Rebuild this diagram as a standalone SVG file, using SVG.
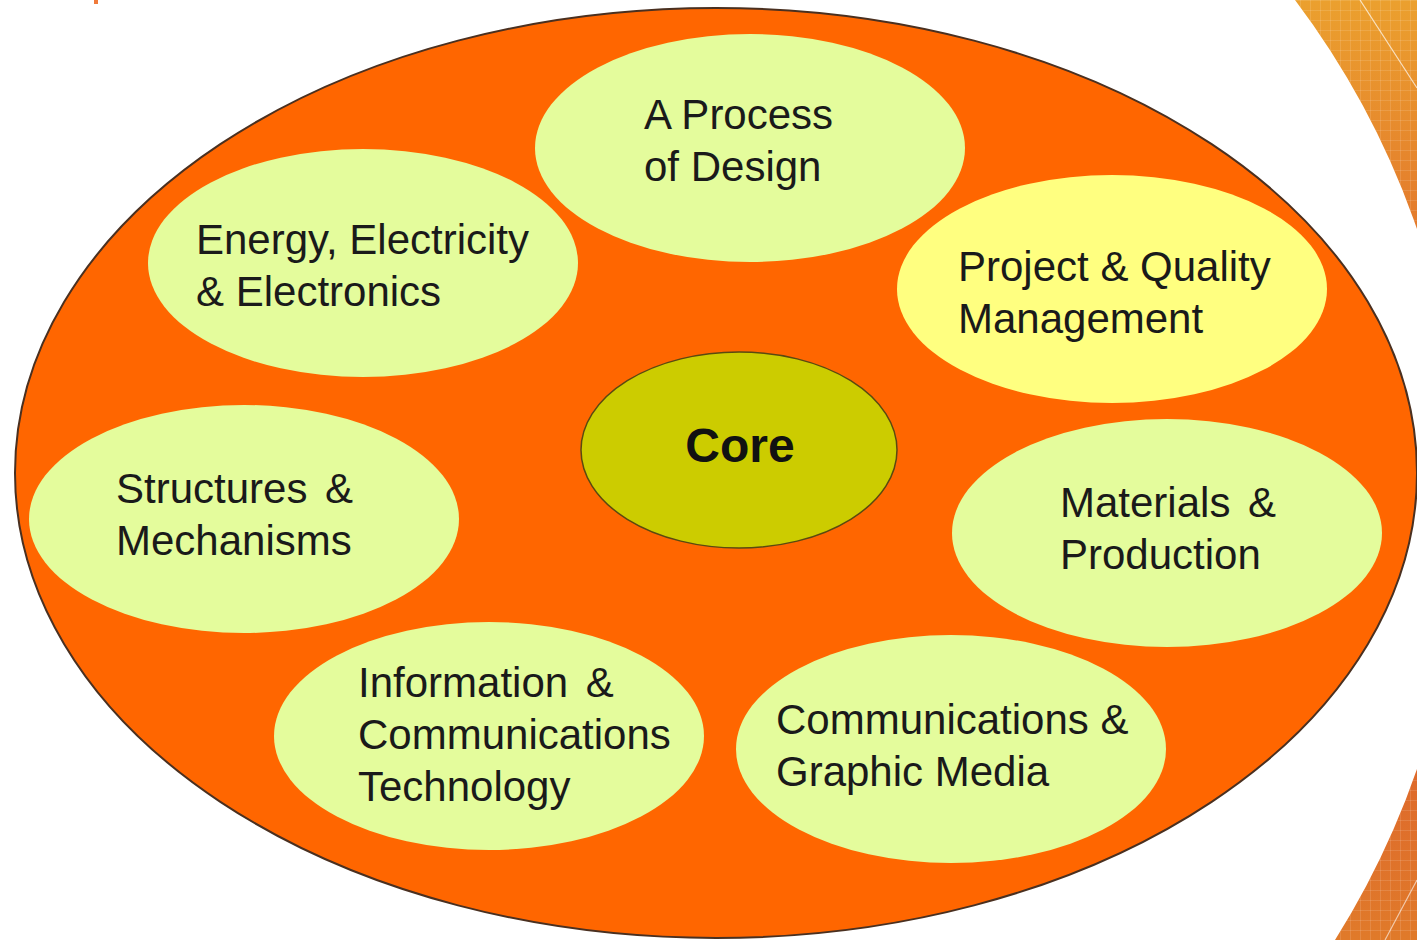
<svg xmlns="http://www.w3.org/2000/svg" width="1417" height="940" viewBox="0 0 1417 940">
<defs>
<linearGradient id="band" x1="0" y1="0" x2="0" y2="1">
<stop offset="0" stop-color="#eba02e"/>
<stop offset="0.35" stop-color="#e06a2c"/>
<stop offset="0.65" stop-color="#dc5a2c"/>
<stop offset="1" stop-color="#e07a2a"/>
</linearGradient>
<pattern id="grid" width="10" height="10" patternUnits="userSpaceOnUse">
<path d="M0 0.5H10M0.5 0V10" stroke="#ffffff" stroke-opacity="0.12" stroke-width="1" fill="none"/>
</pattern>
<style>
.main{fill:#ff6600;stroke:#4a3020;stroke-width:2}
.topic{fill:#e4fc9c}
.pq{fill:#ffff80}
.core{fill:#cccc00;stroke:#5a4a10;stroke-width:1.5}
.lbl{font-family:"Liberation Sans",Arial,sans-serif;font-size:42px;fill:#1a1a1a}
.ws{word-spacing:6px}
.corelbl{font-family:"Liberation Sans",Arial,sans-serif;font-size:48px;font-weight:bold;fill:#111}
</style>
</defs>
<rect width="1417" height="940" fill="#ffffff"/>
<g id="decoration">
<path d="M1295 0 H1417 V940 H1335 A828 828 0 0 0 1295 0 Z" fill="url(#band)"/>
<path d="M1295 0 H1417 V940 H1335 A828 828 0 0 0 1295 0 Z" fill="url(#grid)"/>
<path d="M1360 0 L1417 88" stroke="#ffffff" stroke-opacity="0.7" stroke-width="1.2" fill="none"/>
<path d="M1385 940 L1417 880" stroke="#ffffff" stroke-opacity="0.6" stroke-width="1.2" fill="none"/>
<rect x="94" y="0" width="4" height="4" fill="#f07a3a"/>
</g>
<g id="background">
<ellipse class="main" cx="716" cy="473" rx="701" ry="465"/>
</g>
<g id="connectors"></g>
<g id="node-design">
<ellipse class="topic" cx="750" cy="148" rx="215" ry="114"/>
<text class="lbl" x="644" y="129">A Process</text>
<text class="lbl" x="644" y="181">of Design</text>
</g>
<g id="node-energy">
<ellipse class="topic" cx="363" cy="263" rx="215" ry="114"/>
<text class="lbl" x="196" y="254">Energy, Electricity</text>
<text class="lbl" x="196" y="306">&amp; Electronics</text>
</g>
<g id="node-project">
<ellipse class="pq" cx="1112" cy="289" rx="215" ry="114"/>
<text class="lbl" x="958" y="281">Project &amp; Quality</text>
<text class="lbl" x="958" y="333">Management</text>
</g>
<g id="node-core">
<ellipse class="core" cx="739" cy="450" rx="158" ry="98"/>
<text class="corelbl" x="740" y="462" text-anchor="middle">Core</text>
</g>
<g id="node-structures">
<ellipse class="topic" cx="244" cy="519" rx="215" ry="114"/>
<text class="lbl ws" x="116" y="503">Structures &amp;</text>
<text class="lbl" x="116" y="555">Mechanisms</text>
</g>
<g id="node-materials">
<ellipse class="topic" cx="1167" cy="533" rx="215" ry="114"/>
<text class="lbl ws" x="1060" y="517">Materials &amp;</text>
<text class="lbl" x="1060" y="569">Production</text>
</g>
<g id="node-ict">
<ellipse class="topic" cx="489" cy="736" rx="215" ry="114"/>
<text class="lbl ws" x="358" y="697">Information &amp;</text>
<text class="lbl" x="358" y="749">Communications</text>
<text class="lbl" x="358" y="801">Technology</text>
</g>
<g id="node-graphic">
<ellipse class="topic" cx="951" cy="749" rx="215" ry="114"/>
<text class="lbl" x="776" y="734">Communications &amp;</text>
<text class="lbl" x="776" y="786">Graphic Media</text>
</g>
</svg>
